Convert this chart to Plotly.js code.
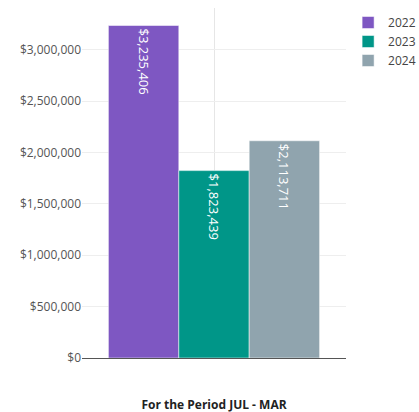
<!DOCTYPE html>
<html>
<head>
<meta charset="utf-8">
<script src="https://cdn.plot.ly/plotly-3.0.1.min.js"></script>
<style>
  html, body { margin: 0; padding: 0; background: #fff; }
  #chart { width: 419px; height: 412px; }
</style>
</head>
<body>
<div id="chart"></div>
<script>
const categories = ["For the Period JUL - MAR"];
const seriesNames = ["2022", "2023", "2024"];
const values2022 = [3235406];
const values2023 = [1823439];
const values2024 = [2113711];
const seriesValues = [values2022, values2023, values2024];
const colors = ["#7E57C2", "#009688", "#90A4AE"];

const traces = seriesNames.map((name, i) => ({
  type: "bar",
  name: name,
  x: categories,
  y: seriesValues[i],
  marker: { color: colors[i], line: { color: "rgba(255,255,255,0.5)", width: 1 } },
  texttemplate: "$%{y:,.0f}",
  textposition: "inside",
  insidetextanchor: "end",
  textangle: 90,
  textfont: { family: "Open Sans", size: 13, color: "#ffffff" },
  hoverinfo: "none"
}));

const layout = {
  width: 419,
  height: 412,
  margin: { l: 82, r: 73, t: 8, b: 54, autoexpand: false },
  paper_bgcolor: "#ffffff",
  plot_bgcolor: "#ffffff",
  font: { family: "Open Sans", size: 12, color: "#444" },
  barmode: "group",
  bargap: 0.2,
  showlegend: true,
  legend: { x: 1.008, xanchor: "left", y: 1, yanchor: "top", font: { size: 12, color: "#444" } },
  xaxis: {
    type: "category",
    showgrid: true,
    gridcolor: "#e6e6e6",
    showline: true,
    linecolor: "#555",
    linewidth: 1,
    ticks: "",
    ticklabelstandoff: 36,
    tickfont: { family: "Open Sans", size: 12, color: "#222", weight: "bold" }
  },
  yaxis: {
    showgrid: true,
    gridcolor: "#eeeeee",
    zeroline: false,
    showline: false,
    ticks: "",
    tickprefix: "$",
    tickformat: ",d",
    dtick: 500000,
    tickfont: { family: "Open Sans", size: 12, color: "#555" }
  }
};

Plotly.newPlot("chart", traces, layout, { staticPlot: true, displayModeBar: false });
</script>
</body>
</html>
